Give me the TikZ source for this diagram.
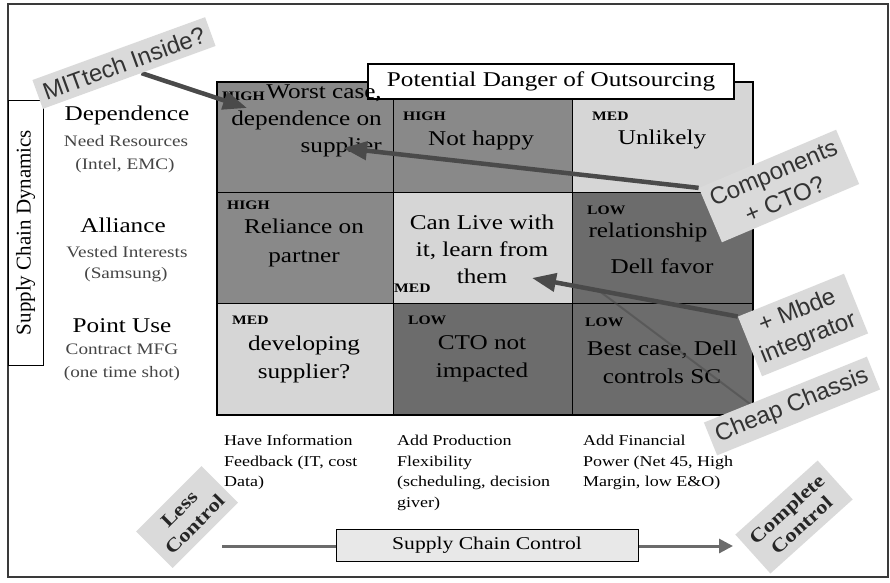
\documentclass[tikz,border=0pt]{standalone}
\usepackage{fontspec}
\setmainfont[FakeStretch=1.2]{Liberation Serif}
\newfontfamily\uprightserif{Liberation Serif}
\newfontfamily\calloutsans{Liberation Sans}
\usetikzlibrary{arrows.meta,calc}
\pgfdeclarelayer{front}
\pgfsetlayers{main,front}
\definecolor{cellhigh}{HTML}{898989}
\definecolor{celllow}{HTML}{6C6C6C}
\definecolor{cellmed}{HTML}{D6D6D6}
\definecolor{calloutfill}{HTML}{DADADA}
\definecolor{arrowgray}{HTML}{4A4A4A}
\definecolor{labelgray}{HTML}{454545}
\definecolor{framegray}{HTML}{3A3A3A}
\newcommand\setfs[2]{\fontsize{#1}{#2}\selectfont}

\tikzset{
  cell/.style={draw=black, line width=0.7pt, inner sep=0pt, outer sep=0pt},
  level/.style={font=\setfs{13}{15}\bfseries, inner sep=0pt, anchor=west},
  celltext/.style={font=\setfs{21}{27}, align=center, inner sep=0pt},
  rowhead/.style={font=\setfs{21}{24}, inner sep=0pt},
  rowsub/.style={font=\setfs{16}{18}, text=labelgray, inner sep=0pt},
  collabel/.style={font=\setfs{15}{20.5}, align=left, anchor=north west, inner sep=0pt},
  callout/.style={font=\calloutsans\setfs{24}{29}, text=black!80, fill=calloutfill,
    draw=none, inner sep=6.5pt, align=center},
  ctrltag/.style={font=\setfs{19}{22}\bfseries, fill=calloutfill, draw=none,
    inner sep=8.5pt, align=center, text=black!85},
  pointer/.style={draw=arrowgray, line width=4.5pt, -{Triangle[length=24pt,width=18pt]}},
}

\begin{document}
\begin{tikzpicture}[x=1pt, y=-1pt]
\useasboundingbox (0,0) rectangle (890,582);

% outer frame
\draw[framegray, line width=1.5pt] (8,4) rectangle (888,577);

% vertical axis label box
\node[draw=black, line width=1pt, fill=white, rotate=90, minimum width=265pt,
      minimum height=35pt, inner sep=0pt, font=\uprightserif\setfs{21}{24}]
      (scd) at (25.5,232.5) {Supply Chain Dynamics};

% the 3x3 matrix
\node[cell, fill=cellhigh, minimum width=176pt, minimum height=110pt] (c11) at (305,137) {};
\node[cell, fill=cellhigh, minimum width=179pt, minimum height=110pt] (c12) at (482.5,137) {};
\node[cell, fill=cellmed,  minimum width=181pt, minimum height=110pt] (c13) at (662.5,137) {};
\node[cell, fill=cellhigh, minimum width=176pt, minimum height=111pt] (c21) at (305,247.5) {};
\node[cell, fill=cellmed,  minimum width=179pt, minimum height=111pt] (c22) at (482.5,247.5) {};
\node[cell, fill=celllow,  minimum width=181pt, minimum height=111pt] (c23) at (662.5,247.5) {};
\node[cell, fill=cellmed,  minimum width=176pt, minimum height=112pt] (c31) at (305,359) {};
\node[cell, fill=celllow,  minimum width=179pt, minimum height=112pt] (c32) at (482.5,359) {};
\node[cell, fill=celllow,  minimum width=181pt, minimum height=112pt] (c33) at (662.5,359) {};
\draw[line width=2pt] (c11.north west) rectangle (c33.south east);

\node[draw=black, line width=1.8pt, fill=white, minimum width=366pt, minimum height=35pt,
      inner sep=0pt, font=\setfs{21}{24}] (ttl) at (551,81.5) {Potential Danger of Outsourcing};

% cell contents
\node[level] (l11) at (222,96) {HIGH};
\node[celltext, align=right, anchor=east] (t11) at (382,121) {Worst case,\\dependence on\\supplier};
\node[level] (l12) at (403,116) {HIGH};
\node[celltext] (t12) at (481,140) {Not happy};
\node[level] (l13) at (592,116) {MED};
\node[celltext] (t13) at (662,139) {Unlikely};
\node[level] (l21) at (227,205) {HIGH};
\node[celltext, font=\setfs{21}{29}] (t21) at (304,243) {Reliance on\\partner};
\node[celltext] (t22) at (482,249) {Can Live with\\it, learn from\\them};
\node[level] (l22) at (394,288) {MED};
\node[level] (l23) at (587,210) {LOW};
\node[celltext] (t23a) at (648,232) {relationship};
\node[celltext] (t23b) at (662,266) {Dell favor};
\node[level] (l31) at (232,320) {MED};
\node[celltext, font=\setfs{21}{28}] (t31) at (304,359) {developing\\supplier?};
\node[level] (l32) at (408,320) {LOW};
\node[celltext, font=\setfs{21}{28}] (t32) at (482,359) {CTO not\\impacted};
\node[level] (l33) at (585,322) {LOW};
\node[celltext, font=\setfs{21}{28}] (t33) at (662,362) {Best case, Dell\\controls SC};

% row headings
\node[rowhead] (r1) at (127,115) {Dependence};
\node[rowsub]  (r1a) at (126,141) {Need Resources};
\node[rowsub]  (r1b) at (125,166) {(Intel, EMC)};
\node[rowhead] (r2) at (123,225) {Alliance};
\node[rowsub]  (r2a) at (127,252) {Vested Interests};
\node[rowsub]  (r2b) at (126,275) {(Samsung)};
\node[rowhead] (r3) at (122,326) {Point Use};
\node[rowsub]  (r3a) at (122,349) {Contract MFG};
\node[rowsub]  (r3b) at (122,374) {(one time shot)};

% column headings
\node[collabel] (k1) at (224,435) {Have Information\\Feedback (IT, cost\\Data)};
\node[collabel] (k2) at (397,435) {Add Production\\Flexibility\\(scheduling, decision\\giver)};
\node[collabel] (k3) at (583,435) {Add Financial\\Power (Net 45, High\\Margin, low E\&O)};

% horizontal axis
\coordinate (scstart) at (222,546);
\coordinate (scend) at (733,546);
\draw[draw=black!58, line width=3pt, -{Triangle[length=14pt,width=14pt]}] (scstart) -- (scend);
\node[draw=black, line width=0.8pt, fill=black!9, minimum width=302pt, minimum height=32pt,
      inner sep=0pt, font=\setfs{18}{20}] (scc) at (487,545) {Supply Chain Control};
\node[ctrltag, rotate=45] (less) at (187,517) {Less\\Control};
\node[ctrltag, rotate=42] (full) at (794,517) {Complete\\Control};

% annotation callouts
\begin{pgfonlayer}{front}
\node[callout, rotate=20] (mit) at (124,63) {MITtech Inside?};
\node[callout, rotate=23] (comp) at (779,186) {Components\\+ CTO?};
\node[callout, rotate=22] (mbde) at (803,325) {+ Mbde\\integrator};
\node[callout, rotate=22] (cheap) at (792,406) {Cheap Chassis};
\end{pgfonlayer}

\coordinate (mittip) at (247,108);
\coordinate (comptip) at (343,148);
\coordinate (mbdetip) at (532,278);
\coordinate (cheapend) at (598,290);
\draw[draw=arrowgray, line width=2pt, opacity=0.55] (cheap.155) -- (cheapend);
\draw[pointer] (mit.-50) -- (mittip);
\draw[pointer] (comp.north west) -- (comptip);
\draw[pointer] (mbde.north west) -- (mbdetip);
\end{tikzpicture}
\end{document}
